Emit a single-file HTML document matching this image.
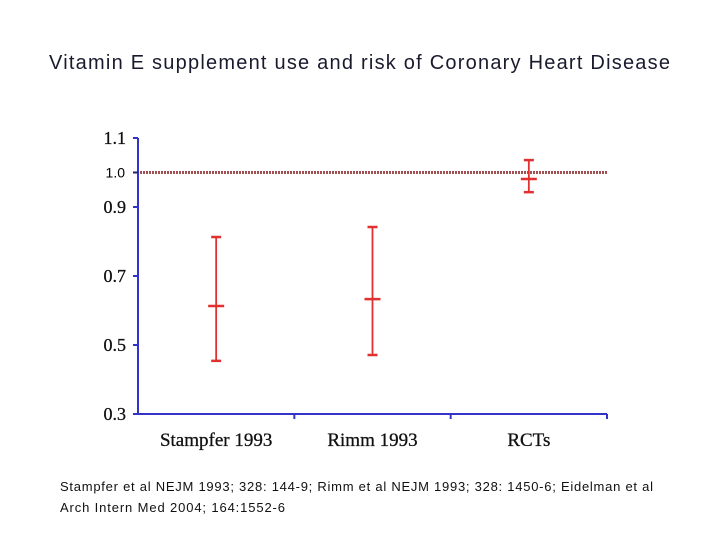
<!DOCTYPE html>
<html><head><meta charset="utf-8"><style>
body{margin:0;background:#fff;}
svg{display:block;}
</style></head><body>
<svg width="720" height="540" id="chart">
<text x="49" y="69" textLength="621" lengthAdjust="spacing" font-family="Liberation Sans, sans-serif" font-size="20" fill="#1a1a2e">Vitamin E supplement use and risk of Coronary Heart Disease</text>
<text x="60" y="491" textLength="593" lengthAdjust="spacing" font-family="Liberation Sans, sans-serif" font-size="13" fill="#111">Stampfer et al NEJM 1993; 328: 144-9;  Rimm et al NEJM 1993; 328: 1450-6;  Eidelman et al</text>
<text x="60" y="512" textLength="225" lengthAdjust="spacing" font-family="Liberation Sans, sans-serif" font-size="13" fill="#111">Arch Intern Med 2004; 164:1552-6</text>
<g id="plot"></g>
</svg>
<script>
const categories = ["Stampfer 1993", "Rimm 1993", "RCTs"];
const estimates = [0.613, 0.633, 0.981];
const lowers = [0.454, 0.471, 0.943];
const uppers = [0.813, 0.842, 1.036];
const yTicks = [0.3, 0.5, 0.7, 0.9, 1.1];
const refValue = 1.0;

const NS = "http://www.w3.org/2000/svg";
const g = document.getElementById("plot");
const x0 = 138, x1 = 607, yTop = 138, yBot = 414, vMin = 0.3, vMax = 1.1;
function yS(v){ return yBot - (v - vMin) / (vMax - vMin) * (yBot - yTop); }
const bw = (x1 - x0) / categories.length;
function xS(i){ return x0 + bw * (i + 0.5); }
function mk(tag, attrs){ const e = document.createElementNS(NS, tag); for (const k in attrs) e.setAttribute(k, attrs[k]); g.appendChild(e); return e; }

let e;
e = mk("line", {x1:x0, y1:yTop, x2:x0, y2:yBot, stroke:"#3333cc", "stroke-width":2});


e = mk("line", {x1:x0, y1:yBot, x2:x1, y2:yBot, stroke:"#3333cc", "stroke-width":2});



yTicks.forEach(v => {
  const y = yS(v);
  e = mk("line", {x1:x0-5, y1:y, x2:x0, y2:y, stroke:"#3333cc", "stroke-width":2});
  
  
  e = mk("text", {x:x0-12, y:y+6, "text-anchor":"end", "font-family":"Liberation Serif, serif", "font-size":18, fill:"#111", stroke:"#111", "stroke-width":0.3});
  e.textContent = v.toFixed(1);
  
  
});
for (let i = 1; i <= categories.length; i++) {
  const x = x0 + bw * i;
  e = mk("line", {x1:x, y1:yBot, x2:x, y2:yBot+5, stroke:"#3333cc", "stroke-width":2});
  
  
}
const ry = yS(refValue);
e = mk("line", {x1:x0-5, y1:ry, x2:x0, y2:ry, stroke:"#222266", "stroke-width":2});


e = mk("line", {x1:x0+2, y1:ry, x2:x1, y2:ry, stroke:"#a05050", "stroke-width":3, "stroke-dasharray":"2,1"});


e = mk("text", {x:x0-13, y:ry+5, "text-anchor":"end", "font-family":"Liberation Sans, sans-serif", "font-size":14, fill:"#000"});
e.textContent = refValue.toFixed(1);



categories.forEach((c, i) => {
  const x = xS(i);
  e = mk("text", {x:x, y:yBot+32, "text-anchor":"middle", "font-family":"Liberation Serif, serif", "font-size":19, fill:"#111", stroke:"#111", "stroke-width":0.3});
  e.textContent = c;
  
  
  e = mk("line", {x1:x, y1:yS(uppers[i]), x2:x, y2:yS(lowers[i]), stroke:"#e03030", "stroke-width":1.8});
  
  
  [uppers[i], lowers[i]].forEach(v => {
    e = mk("line", {x1:x-5, y1:yS(v), x2:x+5, y2:yS(v), stroke:"#e03030", "stroke-width":2.5});
    
    
  });
  e = mk("line", {x1:x-8, y1:yS(estimates[i]), x2:x+8, y2:yS(estimates[i]), stroke:"#e03030", "stroke-width":2.5});
  
  
});
</script>
</body></html>
